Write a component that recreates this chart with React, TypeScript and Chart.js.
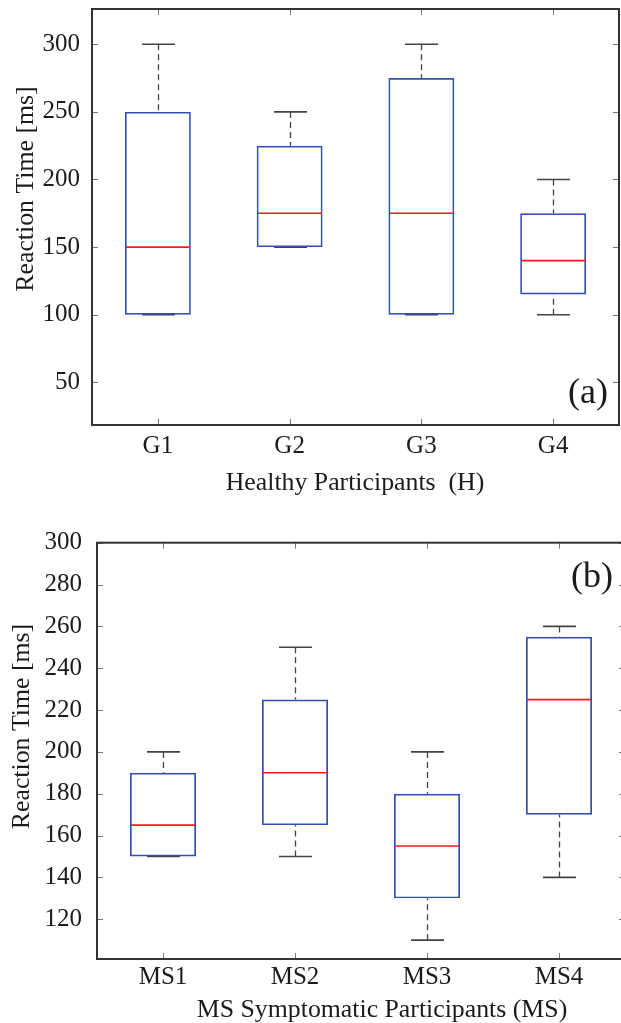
import React, { useEffect, useRef } from "react";
import { Chart, registerables } from "chart.js";

Chart.register(...registerables);

// ---------- data ----------
const healthyGroups = ["G1", "G2", "G3", "G4"];
const healthyMin = [100, 150, 100, 100];
const healthyQ1 = [100, 150, 100, 115];
const healthyMedian = [150, 175, 175, 140];
const healthyQ3 = [250, 225, 275, 175];
const healthyMax = [300, 250, 300, 200];
const healthyTicks = [50, 100, 150, 200, 250, 300];

const msGroups = ["MS1", "MS2", "MS3", "MS4"];
const msMin = [150, 150, 110, 140];
const msQ1 = [150, 165, 130, 170];
const msMedian = [165, 190, 155, 225];
const msQ3 = [190, 225, 180, 255];
const msMax = [200, 250, 200, 260];
const msTicks = [120, 140, 160, 180, 200, 220, 240, 260, 280, 300];

// ---------- style ----------
const FONT = '"Liberation Serif", "Times New Roman", serif';
const TEXT = "#1e1a1b";
const BOX = "#3150b0";
const MEDIAN = "#ff1a1a";
const WHISKER = "#444444";
const FRAME = "#333333";
const TICK = "#777777";

type Panel = {
  labels: string[];
  min: number[];
  q1: number[];
  median: number[];
  q3: number[];
  max: number[];
  ticks: number[];
  yMin: number;
  yMax: number;
  xTitle: string;
  yTitle: string;
  tag: string;
  width: number;
  height: number;
  top: number;
  padTop: number;
  padRight: number;
  yAxisWidth: number;
  xAxisHeight: number;
  yTickPad: number;
  xTickPad: number;
  yTitleX: number;
  yTitleY: number;
  xTitleX: number;
  xTitleY: number;
  tagX: number;
  tagY: number;
};

const panelA: Panel = {
  labels: healthyGroups,
  min: healthyMin,
  q1: healthyQ1,
  median: healthyMedian,
  q3: healthyQ3,
  max: healthyMax,
  ticks: healthyTicks,
  yMin: 18.4,
  yMax: 326.1,
  xTitle: "Healthy Participants  (H)",
  yTitle: "Reaction Time [ms]",
  tag: "(a)",
  width: 621,
  height: 500,
  top: 0,
  padTop: 9,
  padRight: 2,
  yAxisWidth: 92,
  xAxisHeight: 75,
  yTickPad: 12,
  xTickPad: 6,
  yTitleX: 33,
  yTitleY: 189,
  xTitleX: 355,
  xTitleY: 490,
  tagX: 608,
  tagY: 403,
};

const panelB: Panel = {
  labels: msGroups,
  min: msMin,
  q1: msQ1,
  median: msMedian,
  q3: msQ3,
  max: msMax,
  ticks: msTicks,
  yMin: 101,
  yMax: 300,
  xTitle: "MS Symptomatic Participants (MS)",
  yTitle: "Reaction Time [ms]",
  tag: "(b)",
  width: 630,
  height: 503,
  top: 520,
  padTop: 22.7,
  padRight: 5,
  yAxisWidth: 97,
  xAxisHeight: 64,
  yTickPad: 15,
  xTickPad: 3,
  yTitleX: 29,
  yTitleY: 206.5,
  xTitleX: 382,
  xTitleY: 496.7,
  tagX: 613,
  tagY: 66.7,
};

function makePlugin(p: Panel) {
  return {
    id: "boxExtras",
    beforeDatasetsDraw(chart: any) {
      const { ctx } = chart;
      const x = chart.scales.x;
      const y = chart.scales.y;
      const cw = x.getPixelForValue(1) - x.getPixelForValue(0);
      ctx.save();
      ctx.strokeStyle = WHISKER;
      p.labels.forEach((_, i) => {
        const cx = Math.round(x.getPixelForValue(i)) + 0.5;
        ctx.lineWidth = 1.3;
        ctx.setLineDash([6, 4]);
        ctx.beginPath();
        ctx.moveTo(cx, y.getPixelForValue(p.max[i]));
        ctx.lineTo(cx, y.getPixelForValue(p.q3[i]));
        ctx.moveTo(cx, y.getPixelForValue(p.min[i]));
        ctx.lineTo(cx, y.getPixelForValue(p.q1[i]));
        ctx.stroke();
        ctx.setLineDash([]);
        ctx.lineWidth = 1.6;
        ctx.beginPath();
        [p.max[i], p.min[i]].forEach((v) => {
          const py = y.getPixelForValue(v);
          ctx.moveTo(cx - cw * 0.125, py);
          ctx.lineTo(cx + cw * 0.125, py);
        });
        ctx.stroke();
      });
      ctx.restore();
    },
    afterDatasetsDraw(chart: any) {
      const { ctx, chartArea: a } = chart;
      const x = chart.scales.x;
      const y = chart.scales.y;
      const cw = x.getPixelForValue(1) - x.getPixelForValue(0);
      ctx.save();
      // medians
      ctx.strokeStyle = MEDIAN;
      ctx.lineWidth = 1.6;
      p.labels.forEach((_, i) => {
        const cx = x.getPixelForValue(i);
        const py = y.getPixelForValue(p.median[i]);
        ctx.beginPath();
        ctx.moveTo(cx - cw * 0.25 + 1, py);
        ctx.lineTo(cx + cw * 0.25 - 1, py);
        ctx.stroke();
      });
      // inward ticks
      ctx.strokeStyle = TICK;
      ctx.lineWidth = 1;
      ctx.beginPath();
      p.ticks.forEach((v) => {
        const py = Math.round(y.getPixelForValue(v)) + 0.5;
        ctx.moveTo(a.left, py);
        ctx.lineTo(a.left + 6, py);
        ctx.moveTo(a.right, py);
        ctx.lineTo(a.right - 6, py);
      });
      p.labels.forEach((_, i) => {
        const px = Math.round(x.getPixelForValue(i)) + 0.5;
        ctx.moveTo(px, a.bottom);
        ctx.lineTo(px, a.bottom - 6);
        ctx.moveTo(px, a.top);
        ctx.lineTo(px, a.top + 6);
      });
      ctx.stroke();
      // frame
      ctx.strokeStyle = FRAME;
      ctx.lineWidth = 2;
      ctx.strokeRect(a.left, a.top, a.right - a.left, a.bottom - a.top);
      // titles
      ctx.fillStyle = TEXT;
      ctx.font = `25.8px ${FONT}`;
      ctx.textAlign = "center";
      ctx.textBaseline = "alphabetic";
      ctx.fillText(p.xTitle, p.xTitleX, p.xTitleY);
      ctx.save();
      ctx.translate(p.yTitleX, p.yTitleY);
      ctx.rotate(-Math.PI / 2);
      ctx.fillText(p.yTitle, 0, 0);
      ctx.restore();
      ctx.font = `36px ${FONT}`;
      ctx.textAlign = "right";
      ctx.fillText(p.tag, p.tagX, p.tagY);
      ctx.restore();
    },
  };
}

function BoxPanel({ p }: { p: Panel }) {
  const ref = useRef<HTMLCanvasElement | null>(null);
  useEffect(() => {
    if (!ref.current) return;
    const chart = new Chart(ref.current, {
      type: "bar",
      data: {
        labels: p.labels,
        datasets: [
          {
            data: p.labels.map((_, i) => [p.q1[i], p.q3[i]]) as any,
            backgroundColor: "rgba(0,0,0,0)",
            borderColor: BOX,
            borderWidth: 1.7,
            borderSkipped: false,
            barPercentage: 0.5,
            categoryPercentage: 1,
          },
        ],
      },
      options: {
        animation: false,
        responsive: false,
        devicePixelRatio: 1,
        layout: { padding: { top: p.padTop, right: p.padRight, left: 0, bottom: 0 } },
        plugins: { legend: { display: false }, tooltip: { enabled: false } },
        scales: {
          x: {
            type: "category",
            offset: true,
            grid: { display: false, drawTicks: false },
            border: { display: false },
            ticks: {
              font: { family: FONT, size: 25 },
              color: TEXT,
              padding: p.xTickPad,
              autoSkip: false,
              maxRotation: 0,
            },
            afterFit: (s: any) => {
              s.height = p.xAxisHeight;
              s.paddingLeft = 0;
              s.paddingRight = 0;
            },
          },
          y: {
            type: "linear",
            min: p.yMin,
            max: p.yMax,
            grid: { display: false, drawTicks: false },
            border: { display: false },
            ticks: {
              font: { family: FONT, size: 25 },
              color: TEXT,
              padding: p.yTickPad,
            },
            afterBuildTicks: (s: any) => {
              s.ticks = p.ticks.map((v) => ({ value: v }));
            },
            afterFit: (s: any) => {
              s.width = p.yAxisWidth;
              s.paddingTop = 0;
              s.paddingBottom = 0;
            },
          },
        },
      },
      plugins: [makePlugin(p)],
    });
    return () => chart.destroy();
  }, [p]);
  return (
    <canvas
      ref={ref}
      width={p.width}
      height={p.height}
      style={{
        position: "absolute",
        left: 0,
        top: p.top,
        width: p.width,
        height: p.height,
      }}
    />
  );
}

export default function App() {
  return (
    <div
      style={{
        position: "absolute",
        left: 0,
        top: 0,
        width: 621,
        height: 1023,
        overflow: "hidden",
        background: "#ffffff",
      }}
    >
      <BoxPanel p={panelA} />
      <BoxPanel p={panelB} />
    </div>
  );
}
